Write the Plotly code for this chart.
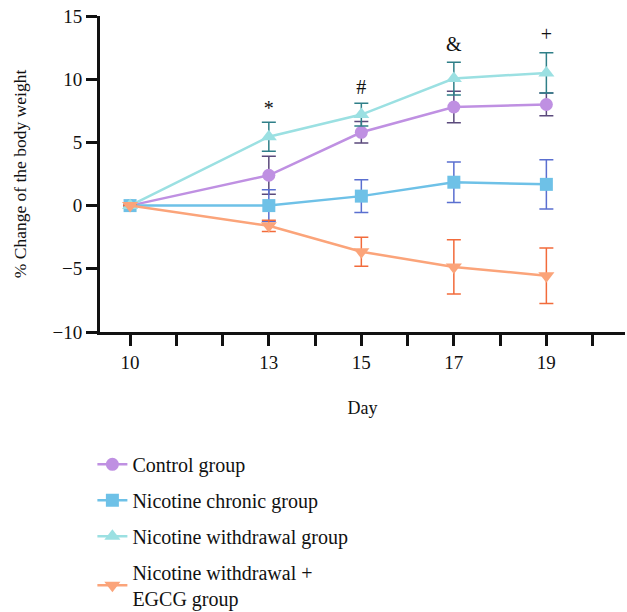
import plotly.graph_objects as go

days = [10, 13, 15, 17, 19]
control = [0, 2.4, 5.8, 7.8, 8.0]
control_err = [0, 1.5, 0.85, 1.25, 0.9]
chronic = [0, 0.0, 0.75, 1.85, 1.68]
chronic_err = [0, 1.25, 1.3, 1.6, 1.95]
withdrawal = [0, 5.45, 7.2, 10.05, 10.5]
withdrawal_err = [0, 1.15, 0.9, 1.3, 1.6]
egcg = [0, -1.6, -3.65, -4.85, -5.55]
egcg_err = [0, 0.45, 1.15, 2.15, 2.2]

sig_days = [13, 15, 17, 19]
sig_marks = ["*", "#", "&", "+"]
sig_y = [7.6, 9.25, 12.65, 13.4]

x_tickvals = list(range(10, 21))
x_ticktext = ["10", "", "", "13", "", "15", "", "17", "", "19", ""]
y_tickvals = [-10, -5, 0, 5, 10, 15]
y_ticktext = ["\u221210", "\u22125", "0", "5", "10", "15"]

series = [
    ("Control group", control, control_err, "#bf90e2", "#5b4a7c", "circle", 13),
    ("Nicotine chronic group", chronic, chronic_err, "#6ec1e7", "#5a6fd0", "square", 13),
    ("Nicotine withdrawal group", withdrawal, withdrawal_err, "#9be0e2", "#2f7f88", "triangle-up", 14),
    ("Nicotine withdrawal +<br>EGCG group", egcg, egcg_err, "#fba47a", "#f26b3b", "triangle-down", 14),
]

font_family = "Liberation Serif"
fig = go.Figure()
for i, (name, vals, errs, col, ecol, sym, msize) in enumerate(series):
    fig.add_trace(go.Scatter(
        x=days, y=vals, name=name, mode="lines+markers",
        legendgroup=f"g{i}",
        line=dict(color=col, width=2.5),
        marker=dict(color=col, symbol=sym, size=msize),
        error_y=dict(type="data", array=errs, visible=True, color=ecol,
                     thickness=1.5, width=7),
    ))

fig.add_trace(go.Scatter(
    x=sig_days, y=sig_y, text=sig_marks, mode="text",
    textfont=dict(family=font_family, size=20, color="#111111"),
    showlegend=False, hoverinfo="skip",
))

fig.update_layout(
    width=627, height=612,
    margin=dict(l=100, r=2, t=16, b=280, autoexpand=False),
    plot_bgcolor="white", paper_bgcolor="white",
    font=dict(family=font_family, size=19, color="#111111"),
    showlegend=True,
    legend=dict(x=-0.0145, y=-0.357, xanchor="left", yanchor="top",
                font=dict(family=font_family, size=20, color="#111111"),
                tracegroupgap=7, itemwidth=30,
                bgcolor="rgba(0,0,0,0)"),
    xaxis=dict(range=[9.35, 20.7], tickmode="array", tickvals=x_tickvals,
               ticktext=x_ticktext, showgrid=False, zeroline=False,
               showline=True, linecolor="#111111", linewidth=3,
               ticks="outside", ticklen=11, tickwidth=3, tickcolor="#111111",
               tickfont=dict(size=19), automargin=False,
               ticklabeloverflow="allow",
               title=dict(text="Day", font=dict(size=18), standoff=30)),
    yaxis=dict(range=[-10, 15], tickmode="array", tickvals=y_tickvals,
               ticktext=y_ticktext, showgrid=False, zeroline=False,
               showline=True, linecolor="#111111", linewidth=3,
               ticks="outside", ticklen=11, tickwidth=3, tickcolor="#111111",
               tickfont=dict(size=19), automargin=False,
               ticklabeloverflow="allow",
               title=dict(text="% Change of the body weight", font=dict(size=17.5), standoff=22)),
)

# remove the default 8px page margin so the figure fills the window exactly
fig.write_html("out.html", config={"displayModeBar": False},
               post_script="document.body.style.margin='0';")
